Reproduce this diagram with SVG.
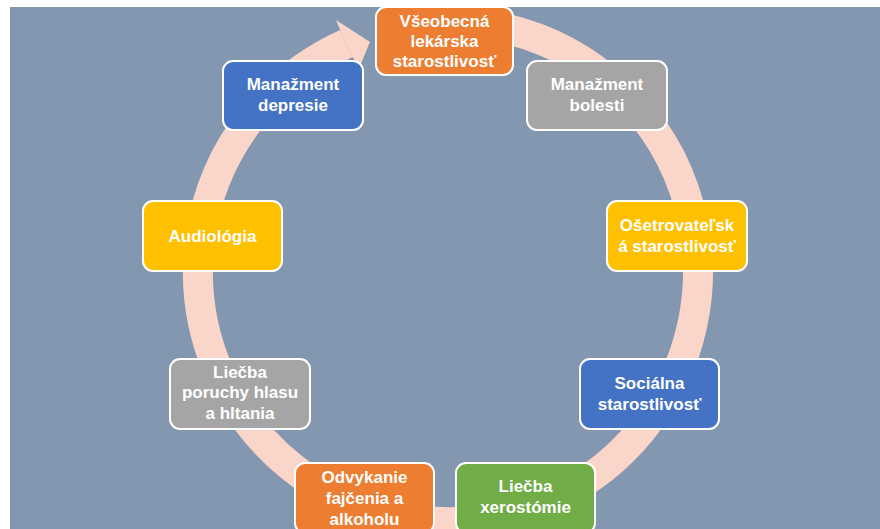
<svg xmlns="http://www.w3.org/2000/svg" width="880" height="529" viewBox="0 0 880 529">
<style>
.box{stroke:#ffffff;stroke-width:2}
.t{font-family:"Liberation Sans",Arial,sans-serif;font-weight:bold;font-size:17px;fill:#ffffff;text-anchor:middle}
.o{fill:#ed7d31}.g{fill:#a5a5a5}.y{fill:#ffc000}.b{fill:#4472c4}.gr{fill:#70ad47}
</style>
<rect x="0" y="0" width="880" height="529" fill="#ffffff"/>
<rect x="10" y="7" width="870" height="522" fill="#8497b0"/>
<g id="connectors">
<path d="M 383.3 30.5 A 250 250 0 1 1 346.3 43.6" fill="none" stroke="#f9d6c9" stroke-width="30"/>
<polygon points="340.4,30.4 336,20 370,42 360,66 352.2,56.9" fill="#f9d6c9"/>
</g>
<g id="n1"><rect class="box o" x="376" y="7" width="137" height="68" rx="10"/>
<text class="t" x="444.5" y="27">Všeobecná</text><text class="t" x="444.5" y="47">lekárska</text><text class="t" x="444.5" y="67">starostlivosť</text></g>
<g id="n2"><rect class="box g" x="527" y="61" width="140" height="69" rx="10"/>
<text class="t" x="597" y="90">Manažment</text><text class="t" x="597" y="111">bolesti</text></g>
<g id="n3"><rect class="box y" x="607" y="201" width="140" height="70" rx="10"/>
<text class="t" x="677" y="231">Ošetrovateľsk</text><text class="t" x="677" y="252">á starostlivosť</text></g>
<g id="n4"><rect class="box b" x="580" y="359" width="139" height="70" rx="10"/>
<text class="t" x="649.5" y="389">Sociálna</text><text class="t" x="649.5" y="410">starostlivosť</text></g>
<g id="n5"><rect class="box gr" x="456" y="463" width="139" height="70" rx="10"/>
<text class="t" x="525.5" y="492">Liečba</text><text class="t" x="525.5" y="513">xerostómie</text></g>
<g id="n6"><rect class="box o" x="295" y="463" width="139" height="70" rx="10"/>
<text class="t" x="364.5" y="483">Odvykanie</text><text class="t" x="364.5" y="504">fajčenia a</text><text class="t" x="364.5" y="525">alkoholu</text></g>
<g id="n7"><rect class="box g" x="170" y="359" width="140" height="70" rx="10"/>
<text class="t" x="240" y="378">Liečba</text><text class="t" x="240" y="398">poruchy hlasu</text><text class="t" x="240" y="419">a hltania</text></g>
<g id="n8"><rect class="box y" x="143" y="201" width="139" height="70" rx="10"/>
<text class="t" x="212.5" y="242">Audiológia</text></g>
<g id="n9"><rect class="box b" x="223" y="61" width="140" height="69" rx="10"/>
<text class="t" x="293" y="90">Manažment</text><text class="t" x="293" y="111">depresie</text></g>
</svg>
